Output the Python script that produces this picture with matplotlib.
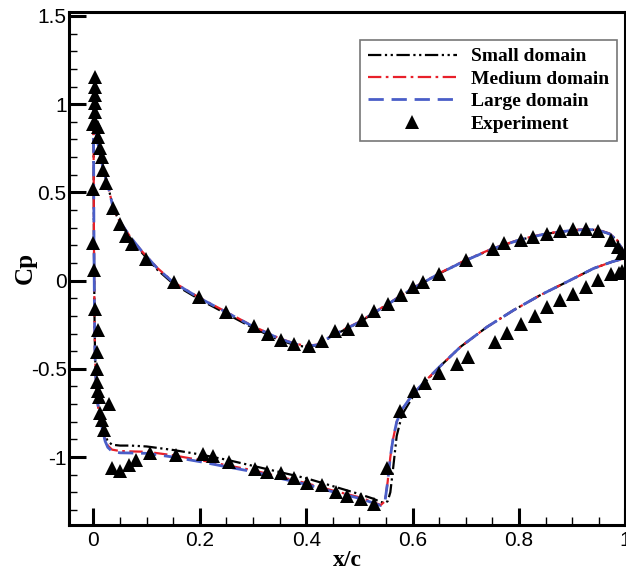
import numpy as np
import matplotlib.pyplot as plt
from matplotlib.ticker import MultipleLocator, FuncFormatter

plt.rcParams['axes.unicode_minus'] = False

# 上表面 (CFD)
xu = [0.0, 0.003, 0.006, 0.012, 0.019, 0.028, 0.038, 0.053, 0.07, 0.09, 0.12, 0.15, 0.2, 0.25, 0.3,
      0.35, 0.38, 0.4, 0.42, 0.45, 0.5, 0.55, 0.6, 0.65, 0.7, 0.75, 0.8, 0.85, 0.9, 0.93, 0.95, 0.97,
      0.985, 0.995, 1.0]
cpu_small = [0.98, 0.90, 0.815, 0.72, 0.626, 0.53, 0.40, 0.315, 0.238, 0.162, 0.062, -0.018, -0.108,
             -0.188, -0.268, -0.338, -0.366, -0.376, -0.367, -0.312, -0.236, -0.14, -0.045, 0.04, 0.115,
             0.18, 0.23, 0.265, 0.285, 0.29, 0.285, 0.265, 0.225, 0.17, 0.13]
cpu_medium = [0.98, 0.90, 0.815, 0.72, 0.626, 0.53, 0.40, 0.32, 0.245, 0.17, 0.072, -0.008, -0.098,
              -0.178, -0.258, -0.328, -0.358, -0.37, -0.363, -0.308, -0.233, -0.138, -0.043, 0.042,
              0.117, 0.182, 0.232, 0.267, 0.287, 0.292, 0.287, 0.267, 0.227, 0.172, 0.13]
cpu_large = [0.98, 0.90, 0.815, 0.72, 0.626, 0.53, 0.40, 0.32, 0.245, 0.17, 0.07, -0.01, -0.10, -0.18,
             -0.26, -0.33, -0.36, -0.372, -0.365, -0.31, -0.235, -0.14, -0.045, 0.04, 0.115, 0.18, 0.23,
             0.265, 0.285, 0.29, 0.285, 0.265, 0.225, 0.17, 0.13]

# 下表面 (CFD)
xl = [0.0, 0.0005, 0.001, 0.002, 0.003, 0.005, 0.009, 0.014, 0.018, 0.022, 0.027, 0.035, 0.05, 0.07,
      0.1, 0.15, 0.2, 0.25, 0.3, 0.35, 0.4, 0.45, 0.5, 0.525, 0.54, 0.548, 0.553, 0.558, 0.563, 0.57,
      0.58, 0.6, 0.625, 0.65, 0.69, 0.74, 0.79, 0.84, 0.89, 0.94, 0.975, 1.0]
cpl_small = [0.98, 0.6, 0.2, -0.2, -0.42, -0.58, -0.72, -0.79, -0.84, -0.88, -0.91, -0.93, -0.935,
             -0.935, -0.94, -0.96, -0.985, -1.015, -1.05, -1.085, -1.12, -1.165, -1.21, -1.235, -1.255,
             -1.26, -1.25, -1.20, -1.07, -0.88, -0.76, -0.66, -0.57, -0.49, -0.375, -0.262, -0.167,
             -0.082, -0.007, 0.069, 0.107, 0.128]
cpl_medium = [0.98, 0.6, 0.2, -0.2, -0.42, -0.58, -0.72, -0.80, -0.855, -0.90, -0.935, -0.958, -0.966,
              -0.968, -0.970, -0.99, -1.017, -1.046, -1.075, -1.112, -1.148, -1.19, -1.228, -1.254,
              -1.272, -1.25, -1.14, -1.0, -0.9, -0.8, -0.73, -0.645, -0.565, -0.49, -0.375, -0.262,
              -0.167, -0.082, -0.007, 0.069, 0.107, 0.128]
cpl_large = [0.98, 0.6, 0.2, -0.2, -0.42, -0.58, -0.72, -0.80, -0.86, -0.91, -0.945, -0.968, -0.976,
             -0.977, -0.979, -1.0, -1.026, -1.055, -1.083, -1.12, -1.155, -1.197, -1.234, -1.259, -1.275,
             -1.25, -1.14, -1.0, -0.9, -0.8, -0.73, -0.645, -0.565, -0.49, -0.375, -0.262, -0.167,
             -0.082, -0.007, 0.069, 0.107, 0.128]

# 实验数据
exp_x_upper = [0.003, 0.003, 0.003, 0.003, 0.003, 0.003, 0.0, 0.009, 0.009, 0.013, 0.016, 0.018, 0.023,
               0.036, 0.050, 0.061, 0.073, 0.099, 0.151, 0.199, 0.249, 0.302, 0.328, 0.352, 0.377,
               0.405, 0.429, 0.454, 0.478, 0.504, 0.527, 0.553, 0.578, 0.601, 0.619, 0.650, 0.700,
               0.751, 0.772, 0.804, 0.827, 0.853, 0.876, 0.901, 0.926, 0.949, 0.973, 0.986, 0.994]
exp_cp_upper = [1.155, 1.10, 1.05, 1.005, 0.955, 0.90, 0.89, 0.87, 0.815, 0.75, 0.70, 0.626, 0.556,
                0.411, 0.32, 0.255, 0.209, 0.125, -0.007, -0.092, -0.177, -0.256, -0.302, -0.335,
                -0.362, -0.368, -0.342, -0.287, -0.273, -0.224, -0.171, -0.13, -0.08, -0.037, -0.008,
                0.037, 0.116, 0.182, 0.211, 0.233, 0.248, 0.267, 0.28, 0.29, 0.29, 0.28, 0.233, 0.192,
                0.154]
exp_x_lower = [0.0, 0.0, 0.001, 0.003, 0.008, 0.006, 0.006, 0.007, 0.009, 0.011, 0.029, 0.013, 0.016,
               0.020, 0.035, 0.050, 0.067, 0.080, 0.106, 0.155, 0.205, 0.225, 0.254, 0.303, 0.327,
               0.352, 0.377, 0.401, 0.430, 0.455, 0.477, 0.502, 0.527, 0.552, 0.577, 0.602, 0.624,
               0.650, 0.684, 0.704, 0.754, 0.777, 0.804, 0.830, 0.853, 0.876, 0.901, 0.926, 0.949,
               0.973, 0.987, 0.994]
exp_cp_lower = [0.52, 0.215, 0.06, -0.16, -0.28, -0.405, -0.50, -0.573, -0.625, -0.66, -0.70, -0.748,
                -0.79, -0.845, -1.064, -1.078, -1.045, -1.017, -0.976, -0.986, -0.983, -0.993, -1.026,
                -1.067, -1.083, -1.093, -1.121, -1.146, -1.161, -1.197, -1.221, -1.24, -1.268, -1.064,
                -0.74, -0.624, -0.579, -0.522, -0.473, -0.435, -0.347, -0.296, -0.246, -0.201, -0.152,
                -0.110, -0.076, -0.035, 0.003, 0.037, 0.044, 0.055]

labels = ["Small domain", "Medium domain", "Large domain", "Experiment"]

# 上下表面连成一条曲线
x_loop = np.concatenate([xu[::-1], xl[1:]])
cp_small = np.concatenate([cpu_small[::-1], cpl_small[1:]])
cp_medium = np.concatenate([cpu_medium[::-1], cpl_medium[1:]])
cp_large = np.concatenate([cpu_large[::-1], cpl_large[1:]])

fig = plt.figure(figsize=(6.26, 5.72), dpi=100)
ax = fig.add_axes([0.111, 0.0822, 0.8882, 0.8973])

ax.plot(x_loop, cp_small, color='black', lw=1.6, dashes=(6, 1.6, 1, 1.6, 1, 1.6), label=labels[0])
ax.plot(x_loop, cp_medium, color='#e8202a', lw=1.6, dashes=(6, 2, 1.2, 2), label=labels[1])
ax.plot(x_loop, cp_large, color='#4a5ec8', lw=2.0, dashes=(5.5, 2.8), label=labels[2])
ax.plot(exp_x_upper + exp_x_lower, exp_cp_upper + exp_cp_lower, '^', color='black',
        markersize=10, markeredgewidth=0, label=labels[3])

ax.set_xlim(-0.045, 1.0)
ax.set_ylim(-1.385, 1.524)

ax.xaxis.set_major_locator(MultipleLocator(0.2))
ax.xaxis.set_minor_locator(MultipleLocator(0.05))
ax.yaxis.set_major_locator(MultipleLocator(0.5))
ax.yaxis.set_minor_locator(MultipleLocator(0.1))
fmt = FuncFormatter(lambda v, p: ('%g' % round(v, 2)))
ax.xaxis.set_major_formatter(fmt)
ax.yaxis.set_major_formatter(fmt)

ax.tick_params(which='major', direction='in', length=12, width=2.2, top=False, right=False,
               labelsize=15, pad=4)
ax.tick_params(axis='y', which='major', pad=2)
ax.tick_params(which='minor', direction='in', length=6, width=1, top=False, right=False)
for lab in ax.get_xticklabels() + ax.get_yticklabels():
    lab.set_family('Liberation Sans')
for s in ax.spines.values():
    s.set_linewidth(2.2)

ax.set_xlabel("x/c", family='Liberation Serif', fontweight='bold', fontsize=17, labelpad=0)
ax.set_ylabel("Cp", family='Liberation Serif', fontweight='bold', fontsize=18)
ax.yaxis.set_label_coords(-0.058, 0.5)

leg = ax.legend(loc='upper right', bbox_to_anchor=(0.984, 0.945), borderaxespad=0,
                prop={'family': 'Liberation Serif', 'weight': 'bold', 'size': 14},
                handlelength=4.6, handletextpad=0.7, labelspacing=0.25, borderpad=0.4,
                fancybox=False, framealpha=1, numpoints=1)
leg.get_frame().set_edgecolor('#777777')
leg.get_frame().set_linewidth(1.2)

plt.savefig('out.png', dpi=100)
